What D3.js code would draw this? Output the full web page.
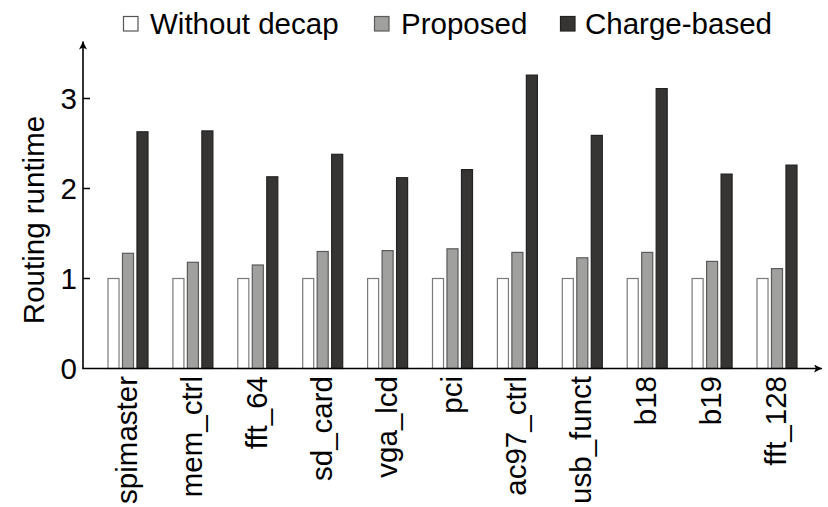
<!DOCTYPE html>
<html>
<head>
<meta charset="utf-8">
<script src="https://cdn.jsdelivr.net/npm/d3@7/dist/d3.min.js"></script>
<style>
  html, body { margin: 0; padding: 0; background: #fff; }
  svg { display: block; }
  text { font-family: "Liberation Sans", Arial, Helvetica, sans-serif; fill: #000; }
</style>
</head>
<body>
<svg id="chart" width="828" height="507"></svg>
<script>
// Benchmarks and routing runtime (normalised to "Without decap")
const categories = ["spimaster", "mem_ctrl", "fft_64", "sd_card", "vga_lcd", "pci",
                    "ac97_ctrl", "usb_funct", "b18", "b19", "fft_128"];
const seriesNames = ["Without decap", "Proposed", "Charge-based"];
const withoutDecap = [1, 1, 1, 1, 1, 1, 1, 1, 1, 1, 1];
const proposed     = [1.28, 1.18, 1.15, 1.30, 1.31, 1.33, 1.29, 1.23, 1.29, 1.19, 1.11];
const chargeBased  = [2.63, 2.64, 2.13, 2.38, 2.12, 2.21, 3.26, 2.59, 3.11, 2.16, 2.26];
const yTicks = [0, 1, 2, 3];

const seriesValues = [withoutDecap, proposed, chargeBased];
const fills   = ["#ffffff", "#a0a09f", "#363533"];
const strokes = ["#7a7a7a", "#5a5a5a", "#222222"];

const svg = d3.select("#chart");
const FONT = 29.5;

const axisX0 = 83, axisXEnd = 822;
const y = d3.scaleLinear().domain([0, 3]).range([368.5, 98.5]);

const x0 = d3.scaleBand().domain(categories).range([95.55, 809.45]).paddingInner(0).paddingOuter(0);
const x1 = d3.scaleBand().domain(seriesNames).range([-20.5, 20.5]).paddingInner(0.17).paddingOuter(0);

// bars
const groups = svg.append("g").selectAll("g")
  .data(categories)
  .join("g")
  .attr("transform", d => `translate(${x0(d) + x0.bandwidth() / 2},0)`);

groups.selectAll("rect")
  .data((c, i) => seriesNames.map((s, k) => ({ s, k, v: seriesValues[k][i] })))
  .join("rect")
  .attr("x", d => x1(d.s) + 0.5)
  .attr("width", x1.bandwidth() - 1)
  .attr("y", d => y(d.v))
  .attr("height", d => y(0) - y(d.v))
  .attr("fill", d => fills[d.k])
  .attr("stroke", d => strokes[d.k])
  .attr("stroke-width", 1.2);

// axes lines with arrows
const defs = svg.append("defs");
defs.append("marker")
  .attr("id", "arrow")
  .attr("viewBox", "0 0 10 10")
  .attr("refX", 10).attr("refY", 5)
  .attr("markerWidth", 10).attr("markerHeight", 8)
  .attr("markerUnits", "userSpaceOnUse")
  .attr("orient", "auto")
  .append("path").attr("d", "M0,0 L10,5 L0,10 L2.5,5 Z").attr("fill", "#000");

svg.append("line")
  .attr("x1", axisX0).attr("y1", y(0))
  .attr("x2", axisX0).attr("y2", 41.5)
  .attr("stroke", "#000").attr("stroke-width", 1.6)
  .attr("marker-end", "url(#arrow)");

svg.append("line")
  .attr("x1", axisX0 - 0.8).attr("y1", y(0))
  .attr("x2", axisXEnd).attr("y2", y(0))
  .attr("stroke", "#000").attr("stroke-width", 1.6)
  .attr("marker-end", "url(#arrow)");

// y ticks (inward) and labels
const yAxis = svg.append("g");
yAxis.selectAll("line")
  .data(yTicks.filter(t => t > 0))
  .join("line")
  .attr("x1", axisX0).attr("x2", axisX0 + 7)
  .attr("y1", d => y(d)).attr("y2", d => y(d))
  .attr("stroke", "#000").attr("stroke-width", 1.5);

yAxis.selectAll("text")
  .data(yTicks)
  .join("text")
  .attr("x", 77)
  .attr("y", d => y(d))
  .attr("dy", "0.36em")
  .attr("text-anchor", "end")
  .attr("font-size", FONT)
  .text(d => d);

// y title
svg.append("text")
  .attr("transform", "translate(44,220) rotate(-90)")
  .attr("text-anchor", "middle")
  .attr("font-size", FONT)
  .text("Routing runtime");

// x category labels (rotated)
svg.append("g").selectAll("text")
  .data(categories)
  .join("text")
  .attr("transform", d => `translate(${x0(d) + x0.bandwidth() / 2 + 9},376) rotate(-90)`)
  .attr("text-anchor", "end")
  .attr("font-size", FONT)
  .text(d => d);

// legend
const legendItems = [
  { name: seriesNames[0], sx: 123, tx: 150 },
  { name: seriesNames[1], sx: 374, tx: 401 },
  { name: seriesNames[2], sx: 560, tx: 585 }
];
const legend = svg.append("g");
legendItems.forEach((it, k) => {
  legend.append("rect")
    .attr("x", it.sx + 0.5).attr("y", 16.5)
    .attr("width", 14.5).attr("height", 14.5)
    .attr("fill", fills[k])
    .attr("stroke", k === 0 ? "#555" : strokes[k])
    .attr("stroke-width", 1.2);
  legend.append("text")
    .attr("x", it.tx).attr("y", 33.5)
    .attr("font-size", FONT)
    .text(it.name);
});
</script>
</body>
</html>
